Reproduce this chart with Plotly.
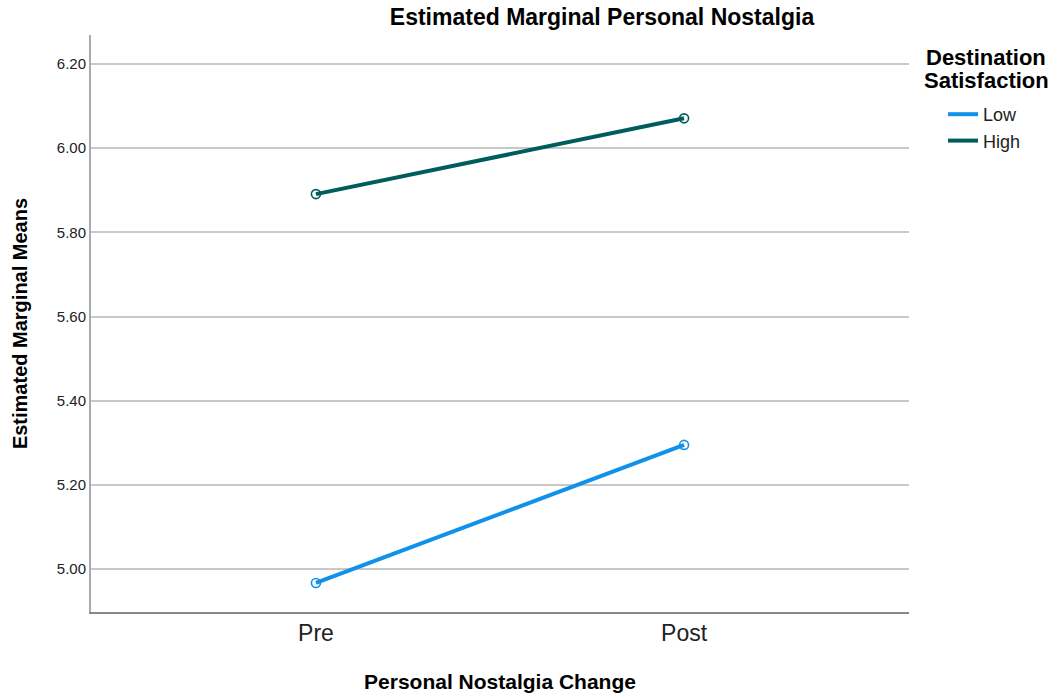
import plotly.graph_objects as go

categories = ["Pre", "Post"]
low_values = [4.967, 5.295]
high_values = [5.891, 6.071]
series_names = ["Low", "High"]
y_ticks = [5.0, 5.2, 5.4, 5.6, 5.8, 6.0, 6.2]
y_tick_labels = ["5.00", "5.20", "5.40", "5.60", "5.80", "6.00", "6.20"]

colors = ["#1192e8", "#005d5d"]
FONT = "Arial, Liberation Sans, sans-serif"

W, H = 1053, 696
L, R, T, B = 91, 144, 35, 84
PW, PH = W - L - R, H - T - B

fig = go.Figure()
for name, vals, col in zip(series_names, [low_values, high_values], colors):
    fig.add_trace(go.Scatter(
        x=[0, 1], y=vals, name=name, mode="lines", legendgroup=name,
        line=dict(color=col, width=4), hovertext=categories,
    ))
    fig.add_trace(go.Scatter(
        x=[0, 1], y=vals, name=name, mode="markers", legendgroup=name, showlegend=False,
        marker=dict(symbol="circle-open", size=9, color=col, line=dict(width=1.6)),
        hovertext=categories,
    ))

fig.update_layout(
    width=W, height=H,
    margin=dict(l=L, r=R, t=T, b=B, autoexpand=False),
    plot_bgcolor="white", paper_bgcolor="white",
    font=dict(family=FONT, color="#000000"),
    title=dict(text="<b>Estimated Marginal Personal Nostalgia</b>", x=602 / W, xanchor="center",
               y=1 - 17 / H, yanchor="middle", font=dict(size=23, color="#000")),
    xaxis=dict(
        range=[-0.611, 1.611], tickvals=[0, 1], ticktext=categories,
        showgrid=False, zeroline=False, showline=True, linecolor="#888888", linewidth=1.5,
        ticks="", tickfont=dict(size=23, color="#222"), automargin=False,
        title=dict(text="<b>Personal Nostalgia Change</b>", font=dict(size=21), standoff=29),
    ),
    yaxis=dict(
        range=[4.898, 6.269], tickvals=y_ticks, ticktext=y_tick_labels,
        showgrid=True, gridcolor="#c8c8c8", gridwidth=1.5, zeroline=False,
        showline=True, linecolor="#aaaaaa", linewidth=2,
        ticks="", tickfont=dict(size=15, color="#222"), automargin=False,
        title=dict(text="<b>Estimated Marginal Means</b>", font=dict(size=20), standoff=24),
    ),
    legend=dict(
        x=(943 - L) / PW, xanchor="left",
        y=(H - B - 96) / PH, yanchor="top",
        font=dict(size=18, color="#222"), tracegroupgap=0,
        bgcolor="rgba(0,0,0,0)",
    ),
    showlegend=True,
    annotations=[
        dict(text="<b>Destination</b>", xref="paper", yref="paper",
             x=(986 - L) / PW, y=(H - B - 57) / PH,
             xanchor="center", yanchor="middle", showarrow=False,
             font=dict(size=22, color="#000")),
        dict(text="<b>Satisfaction</b>", xref="paper", yref="paper",
             x=(986 - L) / PW, y=(H - B - 80) / PH,
             xanchor="center", yanchor="middle", showarrow=False,
             font=dict(size=22, color="#000")),
    ],
)

fig.write_html("out.html", config={"displayModeBar": False},
               post_script="document.body.style.margin='0';")
